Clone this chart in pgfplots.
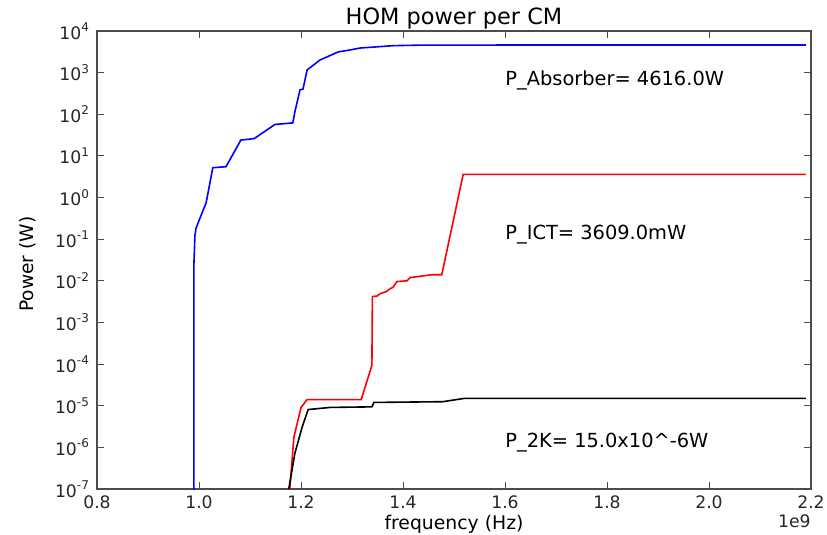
\documentclass[border=0pt]{standalone}
\usepackage{pgfplots}
\pgfplotsset{compat=1.18}
\usepackage{fontspec}
\setmainfont{DejaVu Sans}
\usetikzlibrary{calc}
\begin{document}
\begin{tikzpicture}
\begin{axis}[
  name=ax, at={(0,0)}, anchor=south west,
  scale only axis, width=357pt, height=229pt,
  xmin=0.8, xmax=2.2, ymode=log, ymin=1e-7, ymax=1e4,
  xtick={0.8,1.0,1.2,1.4,1.6,1.8,2.0,2.2},
  xticklabels={0.8,1.0,1.2,1.4,1.6,1.8,2.0,2.2},
  ytick={1e-7,1e-6,1e-5,1e-4,1e-3,1e-2,1e-1,1,1e1,1e2,1e3,1e4},
  yticklabels={10\textsuperscript{-7},10\textsuperscript{-6},10\textsuperscript{-5},10\textsuperscript{-4},10\textsuperscript{-3},10\textsuperscript{-2},10\textsuperscript{-1},10\textsuperscript{0},10\textsuperscript{1},10\textsuperscript{2},10\textsuperscript{3},10\textsuperscript{4}},
  minor tick length=0pt,
  minor y tick style={draw=none},
  tick align=inside, major tick length=3.3pt,
  axis line style={black!70, line width=1pt},
  tick style={black!70, line width=0.5pt},
  every tick label/.append style={font=\fontsize{8.6}{10}\selectfont, text=black!85},
  every axis title shift=0pt,
  title={HOM power per CM},
  title style={font=\fontsize{11.2}{13}\selectfont, at={(axis description cs:0.5,1)}, anchor=base, yshift=3pt},
  xlabel={frequency (Hz)},
  xlabel style={font=\fontsize{9.4}{11}\selectfont, at={(axis description cs:0.5,0)}, anchor=base, yshift=-20.3pt},
  ylabel={Power (W)},
  ylabel style={font=\fontsize{9.3}{11}\selectfont, at={(axis description cs:-0.0966,0.491)}, anchor=center},
]
\addplot[blue, line width=0.8pt] coordinates {
(0.990,1e-8) (0.990,0.025) (0.992,0.12) (0.994,0.18) (1.000,0.28) (1.014,0.75)
(1.027,5.2) (1.053,5.5) (1.082,24) (1.108,26) (1.149,57) (1.184,62) (1.188,115)
(1.198,385) (1.204,405) (1.212,1160) (1.237,2000) (1.273,3150) (1.296,3500)
(1.316,3900) (1.382,4450) (1.429,4560) (1.600,4600) (2.190,4616)
};
\addplot[red, line width=0.8pt] coordinates {
(1.178,1e-7) (1.186,1.74e-6) (1.200,9.1e-6) (1.212,1.4e-5) (1.318,1.4e-5)
(1.339,9.3e-5) (1.340,4.2e-3) (1.349,4.3e-3) (1.355,4.9e-3) (1.367,5.5e-3)
(1.375,6.5e-3) (1.380,6.9e-3) (1.388,9.6e-3) (1.408,1.0e-2) (1.414,1.2e-2)
(1.457,1.4e-2) (1.476,1.4e-2) (1.518,3.609) (2.190,3.609)
};
\addplot[black, line width=0.8pt] coordinates {
(1.176,1e-7) (1.188,7.2e-7) (1.202,3.0e-6) (1.214,8.1e-6) (1.257,9.1e-6)
(1.339,9.4e-6) (1.343,1.2e-5) (1.478,1.25e-5) (1.520,1.5e-5) (2.190,1.5e-5)
};
\node[anchor=base west, inner sep=0pt, font=\fontsize{9.7}{11}\selectfont] at (axis cs:1.6,500) {P\_Absorber= 4616.0W};
\node[anchor=base west, inner sep=0pt, font=\fontsize{9.7}{11}\selectfont] at (axis cs:1.6,0.1) {P\_ICT= 3609.0mW};
\node[anchor=base west, inner sep=0pt, font=\fontsize{9.7}{11}\selectfont] at (axis cs:1.6,1e-6) {P\_2K= 15.0x10\string^-6W};
\end{axis}
\node[anchor=base east, font=\fontsize{8.6}{10}\selectfont, text=black!85, inner sep=0pt] at ($(ax.south east)+(0pt,-19.4pt)$) {1e9};
\pgfresetboundingbox
\path[use as bounding box] ($(ax.south west)+(-48.5pt,-22.5pt)$) rectangle ($(ax.north east)+(8pt,15.5pt)$);
\end{tikzpicture}
\end{document}
